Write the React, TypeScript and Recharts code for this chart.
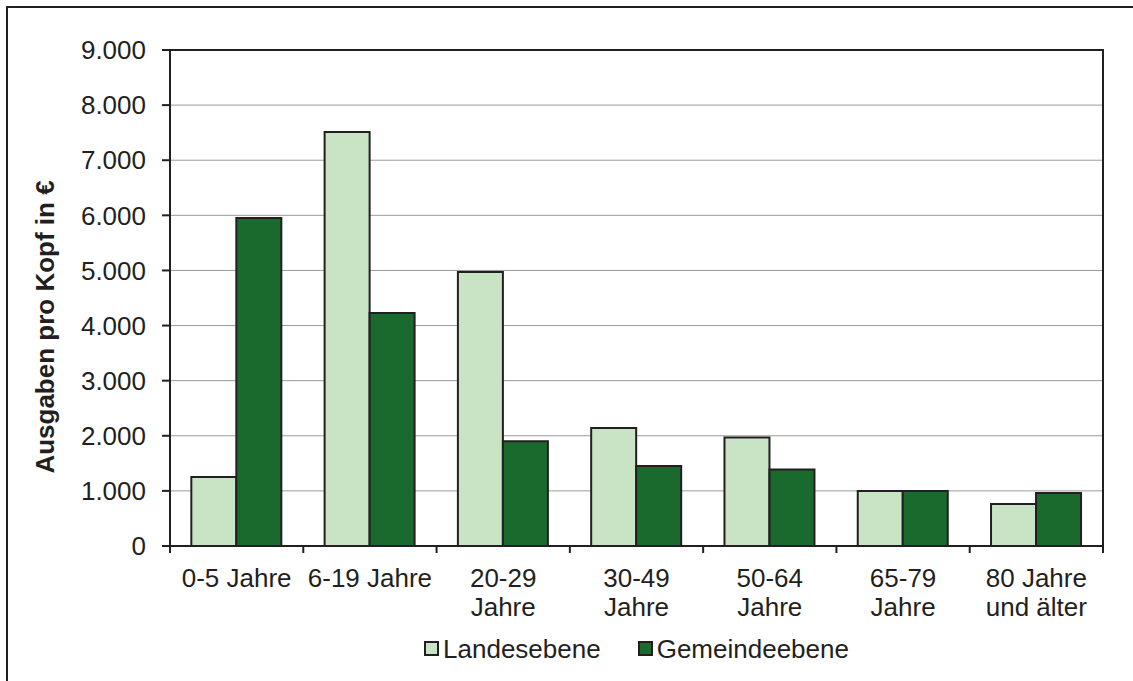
import React from "react";
import { BarChart, Bar, XAxis, YAxis, CartesianGrid, Legend } from "recharts";

const categories = ["0-5 Jahre", "6-19 Jahre", "20-29 Jahre", "30-49 Jahre", "50-64 Jahre", "65-79 Jahre", "80 Jahre und älter"];
const categoryLines = [["0-5 Jahre"], ["6-19 Jahre"], ["20-29", "Jahre"], ["30-49", "Jahre"], ["50-64", "Jahre"], ["65-79", "Jahre"], ["80 Jahre", "und älter"]];
const landesebene = [1250, 7510, 4970, 2140, 1970, 1000, 760];
const gemeindeebene = [5950, 4230, 1900, 1450, 1390, 1000, 960];
const yTicks = [0, 1000, 2000, 3000, 4000, 5000, 6000, 7000, 8000, 9000];
const seriesNames = ["Landesebene", "Gemeindeebene"];

const data = categories.map((c, i) => ({ cat: c, land: landesebene[i], gem: gemeindeebene[i] }));

const INK = "#231f20";
const LIGHT = "#c8e4c5";
const DARK = "#1b6a2d";
const FONT = "'Liberation Sans', Arial, sans-serif";

const CHART_W = 1133;
const CHART_H = 681;
const MARGIN = { top: 50, right: 30, left: 0, bottom: 10 };
const Y_AXIS_W = 170;
const X_AXIS_H = 80;
const LEGEND_H = 45;
const TICK_LEN = 7;
const PLOT_LEFT = MARGIN.left + Y_AXIS_W;
const PLOT_W = CHART_W - PLOT_LEFT - MARGIN.right;
const PLOT_H = CHART_H - MARGIN.top - MARGIN.bottom - X_AXIS_H - LEGEND_H;

const fmt = (v: number) => String(v).replace(/\B(?=(\d{3})+(?!\d))/g, ".");

const XTick = (props: any) => {
  const { x, y, payload, index, visibleTicksCount } = props;
  const half = payload && typeof payload.offset === "number" ? payload.offset : 0;
  const lines = categoryLines[index] || [String(payload.value)];
  const count = visibleTicksCount || categories.length;
  const axisY = y - TICK_LEN;
  return (
    <g>
      <line x1={x - half} x2={x - half} y1={axisY} y2={y} stroke={INK} strokeWidth={2} />
      {index === count - 1 && (
        <line x1={x + half} x2={x + half} y1={axisY} y2={y} stroke={INK} strokeWidth={2} />
      )}
      <text x={x} y={y} textAnchor="middle" fill={INK} fontSize={26} fontFamily={FONT}>
        {lines.map((l: string, i: number) => (
          <tspan key={i} x={x} dy={i === 0 ? 34 : 29}>{l}</tspan>
        ))}
      </text>
    </g>
  );
};

const YLabel = (props: any) => {
  const vb = props.viewBox || { x: 0, y: 50, width: 170, height: 496 };
  const cx = vb.x + 45;
  const cy = vb.y + vb.height / 2 + 29;
  return (
    <text x={cx} y={cy} transform={`rotate(-90 ${cx} ${cy})`} textAnchor="middle" dominantBaseline="central"
      fill={INK} fontSize={26} fontWeight="bold" fontFamily={FONT}>
      Ausgaben pro Kopf in €
    </text>
  );
};

const LegendContent = () => {
  const colors = [LIGHT, DARK];
  return (
    <div style={{ display: "flex", justifyContent: "center", alignItems: "center", height: LEGEND_H, fontFamily: FONT, fontSize: 26, color: INK }}>
      {seriesNames.map((n, i) => (
        <div key={n} style={{ display: "flex", alignItems: "center", marginRight: i === 0 ? 37 : 0 }}>
          <span style={{ display: "inline-block", width: 11, height: 11, background: colors[i], border: `2px solid ${INK}`, marginRight: 4 }} />
          <span style={{ lineHeight: "30px" }}>{n}</span>
        </div>
      ))}
    </div>
  );
};

export default function App() {
  return (
    <div style={{ position: "fixed", left: 0, top: 0, width: CHART_W, height: CHART_H, overflow: "hidden", background: "#fff" }}>
      <div style={{ position: "absolute", left: 6, top: 6, width: 2000, height: 2000, borderTop: `2px solid ${INK}`, borderLeft: `2px solid ${INK}` }} />
      <div style={{ position: "absolute", left: 0, top: 0 }}>
        <BarChart width={CHART_W} height={CHART_H} data={data} margin={MARGIN}
          barCategoryGap="16%" barGap={0}>
          <CartesianGrid vertical={false} stroke="#9a9a9a" strokeWidth={1} />
          <YAxis domain={[0, 9000]} ticks={yTicks} width={Y_AXIS_W} tickSize={8} tickMargin={16}
            tickFormatter={fmt} tick={{ fill: INK, fontSize: 26, fontFamily: FONT }}
            tickLine={{ stroke: INK, strokeWidth: 2 }} axisLine={{ stroke: INK, strokeWidth: 2 }}
            interval={0} label={<YLabel />} />
          <Legend verticalAlign="bottom" height={LEGEND_H} content={<LegendContent />}
            wrapperStyle={{ left: PLOT_LEFT, width: PLOT_W }} />
          <Bar dataKey="land" name={seriesNames[0]} fill={LIGHT} stroke={INK} strokeWidth={2} isAnimationActive={false} />
          <Bar dataKey="gem" name={seriesNames[1]} fill={DARK} stroke={INK} strokeWidth={2} isAnimationActive={false} />
          <XAxis dataKey="cat" height={X_AXIS_H} tickSize={TICK_LEN} tickMargin={0} tickLine={false}
            axisLine={{ stroke: INK, strokeWidth: 2 }} tick={<XTick />} interval={0} />
        </BarChart>
      </div>
      <div style={{ position: "absolute", left: PLOT_LEFT - 1, top: MARGIN.top - 1, width: PLOT_W, height: PLOT_H,
        borderTop: `2px solid ${INK}`, borderRight: `2px solid ${INK}`, pointerEvents: "none" }} />
    </div>
  );
}
